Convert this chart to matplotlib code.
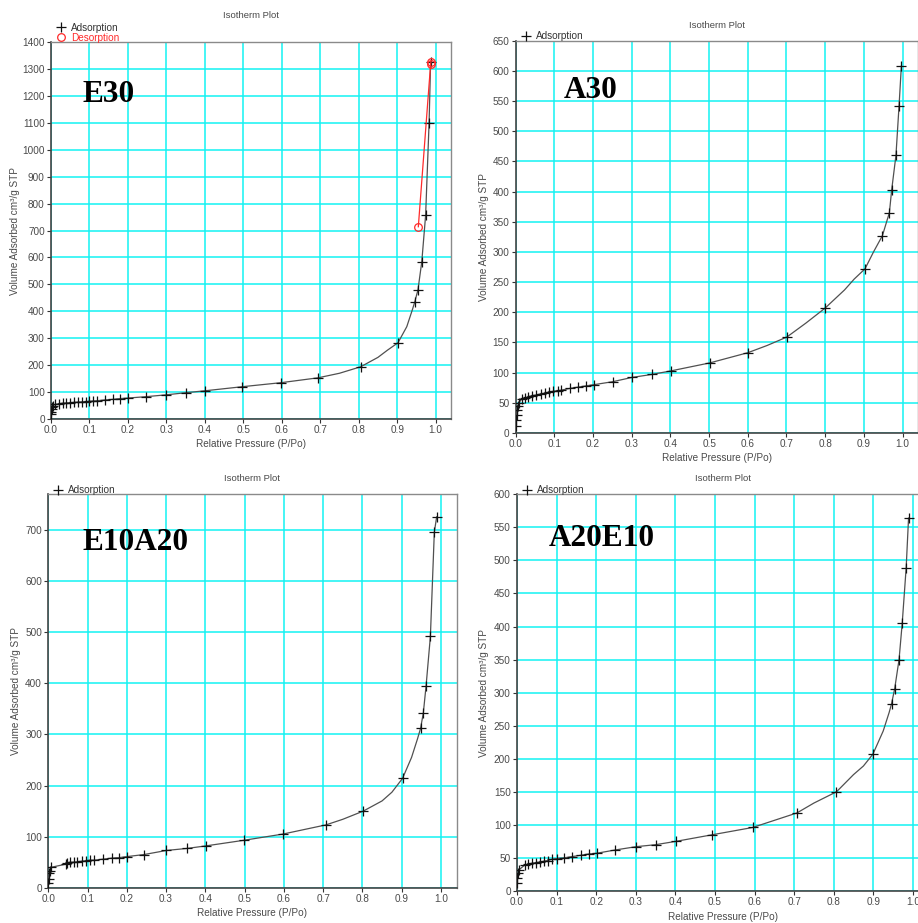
import matplotlib
matplotlib.use("Agg")
import matplotlib.pyplot as plt
from matplotlib.lines import Line2D


# E30 (top left) - adsorption + desorption branch
E30_P = [0.0005, 0.001, 0.002, 0.003, 0.005, 0.01, 0.02, 0.03, 0.04, 0.05,
         0.06, 0.07, 0.08, 0.09, 0.10, 0.11, 0.12, 0.14, 0.16, 0.18,
         0.20, 0.247, 0.30, 0.352, 0.401, 0.497, 0.598, 0.694, 0.805, 0.902,
         0.946, 0.954, 0.964, 0.974, 0.983, 0.987]
E30_V = [18, 27, 36, 44, 50, 54, 57, 59, 60, 61,
         62, 63, 64, 65, 66, 67, 68, 71, 73, 76,
         78, 83, 90, 98, 105, 120, 135, 153, 194, 283,
         436, 479, 584, 757, 1100, 1327]
# extra readings of the drawn smooth line (no markers)
E30_LINE_P = [0.75, 0.85, 0.875, 0.925, 0.94]
E30_LINE_V = [170, 229, 256, 343, 408]
E30_DES_P = [0.988, 0.987, 0.955]
E30_DES_V = [1327, 1318, 714]

# A30 (top right)
A30_P = [0.0002, 0.001, 0.002, 0.003, 0.005, 0.008, 0.015, 0.023, 0.032, 0.042,
         0.053, 0.065, 0.075, 0.085, 0.096, 0.108, 0.118, 0.141, 0.161, 0.181,
         0.202, 0.251, 0.30, 0.352, 0.402, 0.501, 0.60, 0.701, 0.80, 0.903,
         0.948, 0.966, 0.972, 0.983, 0.991, 0.997]
A30_V = [11, 21, 30, 38, 45, 50, 56, 58, 60, 62,
         63, 65, 66, 68, 69, 70, 71, 74, 76, 78,
         80, 85, 92, 97, 103, 116, 133, 159, 207, 272,
         327, 365, 403, 460, 542, 608]
A30_LINE_P = [0.65, 0.75, 0.85, 0.875, 0.925]
A30_LINE_V = [145, 182, 237, 255, 300]

# E10A20 (bottom left)
E10A20_P = [0.0005, 0.001, 0.003, 0.005, 0.007, 0.044, 0.047, 0.055, 0.065, 0.074,
            0.085, 0.096, 0.106, 0.117, 0.14, 0.161, 0.181, 0.201, 0.244, 0.301,
            0.354, 0.402, 0.499, 0.597, 0.707, 0.802, 0.902, 0.948, 0.955, 0.962,
            0.973, 0.983, 0.989]
E10A20_V = [9, 18, 28, 33, 40, 46, 49, 50, 50, 51,
            52, 53, 54, 54, 56, 58, 59, 61, 65, 73,
            77, 82, 93, 105, 123, 150, 214, 312, 342, 395,
            492, 696, 726]
E10A20_LINE_P = [0.75, 0.85, 0.875, 0.925, 0.94]
E10A20_LINE_V = [134, 170, 187, 255, 291]

# A20E10 (bottom right)
A20E10_P = [0.0005, 0.001, 0.003, 0.005, 0.019, 0.028, 0.038, 0.048, 0.059, 0.068,
            0.078, 0.089, 0.10, 0.118, 0.139, 0.161, 0.181, 0.201, 0.248, 0.301,
            0.35, 0.401, 0.493, 0.595, 0.707, 0.807, 0.899, 0.946, 0.954, 0.965,
            0.973, 0.983, 0.989]
A20E10_V = [12, 19, 27, 32, 39, 41, 42, 43, 44, 45,
            46, 48, 49, 50, 52, 54, 56, 57, 62, 67,
            70, 75, 85, 96, 118, 150, 207, 283, 306, 350,
            405, 489, 564]
A20E10_LINE_P = [0.75, 0.85, 0.875, 0.925, 0.94]
A20E10_LINE_V = [133, 176, 189, 242, 270]

X_TICKS = [0.0, 0.1, 0.2, 0.3, 0.4, 0.5, 0.6, 0.7, 0.8, 0.9, 1.0]

FONT = "Liberation Sans"
TXT = "#4a4a4a"
GRID = "#14F2F2"


def draw_panel(rect, p, v, line_p, line_v, ymax, ystep, name, name_xy,
               ylab_x, des=None):
    ax = fig.add_axes(rect)
    ax.set_axisbelow(True)
    ax.grid(True, color=GRID, lw=1.1)

    # smooth line through measured points + extra line readings
    pts = sorted(zip(list(p) + list(line_p), list(v) + list(line_v)))
    ax.plot([a for a, _ in pts], [b for _, b in pts], color="#505050",
            lw=0.9, zorder=3)
    ax.plot(p, v, ls="none", marker="+", ms=7, mew=0.9, mec="#111111",
            zorder=4)
    handles = [Line2D([], [], ls="none", marker="+", ms=7, mew=0.9,
                      color="#111111", label="Adsorption")]
    if des is not None:
        ax.plot(des[0], des[1], color="#ff2a2a", lw=0.9, marker="o", ms=5.5,
                mfc="none", mew=0.9, zorder=5)
        handles.append(Line2D([], [], ls="none", marker="o", ms=5.5, mfc="none",
                              mew=0.9, color="#ff2a2a", label="Desorption"))

    ax.set_xlim(0, 1.04)
    ax.set_ylim(0, ymax)
    ax.set_xticks(X_TICKS)
    ax.set_xticklabels([f"{t:.1f}" for t in X_TICKS])
    ax.set_yticks(range(0, int(ymax) + 1, ystep))
    ax.tick_params(length=3, width=0.8, pad=1.5, labelsize=7.2,
                   colors="#333333", labelcolor=TXT)
    for lab in ax.get_xticklabels() + ax.get_yticklabels():
        lab.set_fontfamily(FONT)

    for s in ("left", "bottom"):
        ax.spines[s].set_color("#444444")
        ax.spines[s].set_linewidth(1.2)
    for s in ("top", "right"):
        ax.spines[s].set_color("#8a8a8a")
        ax.spines[s].set_linewidth(1.0)

    ax.set_xlabel("Relative Pressure (P/Po)", fontsize=7.2, family=FONT,
                  color=TXT)
    ax.xaxis.set_label_coords(0.5, -0.052)
    ax.set_ylabel("Volume Adsorbed cm³/g STP", fontsize=7.2, family=FONT,
                  color=TXT)
    ax.yaxis.set_label_coords(ylab_x, 0.5)

    title_y = 1.07 if des is not None else 1.04
    ax.text(0.5, title_y, "Isotherm Plot", transform=ax.transAxes,
            ha="center", va="center", fontsize=6.8, family=FONT, color=TXT)

    leg = ax.legend(handles=handles, loc="lower left",
                    bbox_to_anchor=(0.012, 0.998), frameon=False,
                    borderpad=0, borderaxespad=0, handlelength=1.0,
                    handletextpad=0.5, labelspacing=0.0,
                    prop={"family": FONT, "size": 7.2})
    for txt, h in zip(leg.get_texts(), handles):
        txt.set_color("#ff2a2a" if h.get_label() == "Desorption" else "#333333")

    ax.text(name_xy[0], name_xy[1], name, transform=ax.transAxes,
            ha="left", va="baseline", fontsize=22.5, fontweight="bold",
            family="Liberation Serif", color="black")
    return ax


fig = plt.figure(figsize=(9.18, 9.23), dpi=100)

draw_panel([0.0556, 0.5460, 0.4357, 0.4085], E30_P, E30_V,
           E30_LINE_P, E30_LINE_V, 1400, 100,
           "E30", (0.079, 0.842), -0.0775, des=(E30_DES_P, E30_DES_V))
draw_panel([0.5618, 0.5309, 0.4382, 0.4250], A30_P, A30_V,
           A30_LINE_P, A30_LINE_V, 650, 50,
           "A30", (0.12, 0.855), -0.066)
draw_panel([0.0526, 0.0382, 0.4449, 0.4262], E10A20_P, E10A20_V,
           E10A20_LINE_P, E10A20_LINE_V, 770, 100,
           "E10A20", (0.084, 0.858), -0.066)
draw_panel([0.5632, 0.0347, 0.4485, 0.4298], A20E10_P, A20E10_V,
           A20E10_LINE_P, A20E10_LINE_V, 600, 50,
           "A20E10", (0.077, 0.870), -0.067)

fig.savefig("out.png", dpi=100, facecolor="white")
